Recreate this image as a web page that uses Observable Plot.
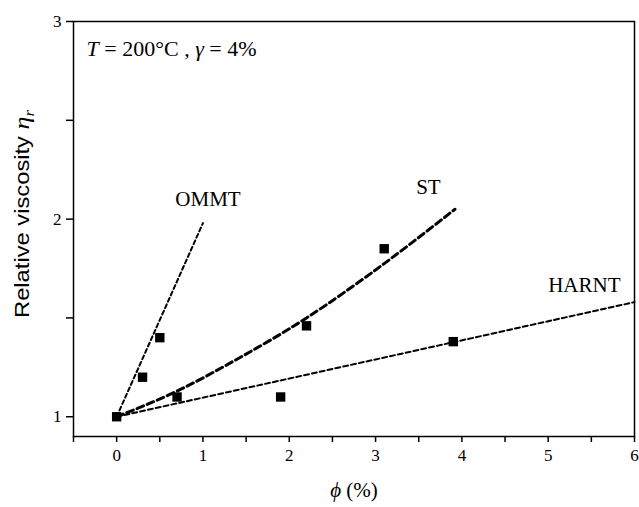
<!DOCTYPE html>
<html><head><meta charset="utf-8">
<script src="https://cdn.jsdelivr.net/npm/d3@7"></script>
<script src="https://cdn.jsdelivr.net/npm/@observablehq/plot@0.6"></script>
<style>body{margin:0;background:#fff} svg text{font-family:'Liberation Serif',serif}</style>
</head><body>
<script>
// ---- data ----
const psPhi = [0];             const psEta = [1.0];
const ommtPhi = [0.3, 0.5];    const ommtEta = [1.2, 1.4];
const stPhi = [0.7, 2.2, 3.1]; const stEta = [1.1, 1.46, 1.85];
const harntPhi = [1.9, 3.9];   const harntEta = [1.1, 1.38];

const ommtFitPhi = [0, 1.0];   const ommtFitEta = [1.0, 1.98];
const stFitPhi = [0, 0.7, 1.43, 2.2, 3.1, 3.92];
const stFitEta = [1.0, 1.13, 1.30, 1.50, 1.775, 2.05];
const harntFitPhi = [0, 6];    const harntFitEta = [1.0, 1.58];

const seriesNames = ["OMMT", "ST", "HARNT"];
const labelPhi = [0.68, 3.47, 5.0];
const labelEta = [2.10, 2.16, 1.665];

const xTicks = [-0.5, 0, 0.5, 1, 1.5, 2, 2.5, 3, 3.5, 4, 4.5, 5, 5.5, 6];
const xTickLabels = ["", "0", "", "1", "", "2", "", "3", "", "4", "", "5", "", "6"];
const yTicks = [1, 1.5, 2, 2.5, 3];
const yTickLabels = ["1", "", "2", "", "3"];
const annotation = "T = 200°C , γ = 4%";
const xTitle = "ϕ (%)";
const yTitle = "Relative viscosity ηr";

// ---- tables ----
const zip = (a, b) => a.map((p, i) => ({phi: p, eta: b[i]}));
const points = [...zip(psPhi, psEta), ...zip(ommtPhi, ommtEta), ...zip(stPhi, stEta), ...zip(harntPhi, harntEta)];
const labels = seriesNames.map((n, i) => ({name: n, phi: labelPhi[i], eta: labelEta[i]}));

const serif = "'Liberation Serif', 'Times New Roman', serif";
const sans = "'Liberation Sans', Arial, sans-serif";

const svg = Plot.plot({
  width: 639, height: 507,
  marginLeft: 73, marginRight: 5, marginTop: 21, marginBottom: 71,
  style: {fontFamily: serif, fontSize: "17px", color: "black", background: "white"},
  x: {domain: [-0.5, 6]},
  y: {domain: [0.9, 3]},
  marks: [
    Plot.axisX({ticks: xTicks, tickSize: 6, tickPadding: 6, strokeWidth: 1.5, fontSize: 17, fontFamily: serif,
      tickFormat: d => xTickLabels[xTicks.indexOf(d)], label: null}),
    Plot.axisY({ticks: yTicks, tickSize: 7, tickPadding: 5, strokeWidth: 1.5, fontSize: 17, fontFamily: serif,
      tickFormat: d => yTickLabels[yTicks.indexOf(d)], label: null}),
    Plot.frame({stroke: "black", strokeWidth: 1.5}),
    Plot.line(zip(ommtFitPhi, ommtFitEta), {x: "phi", y: "eta", stroke: "black", strokeWidth: 2, strokeDasharray: "4,3"}),
    Plot.line(zip(stFitPhi, stFitEta), {x: "phi", y: "eta", stroke: "black", strokeWidth: 3, strokeDasharray: "7,4", curve: "natural"}),
    Plot.line(zip(harntFitPhi, harntFitEta), {x: "phi", y: "eta", stroke: "black", strokeWidth: 2, strokeDasharray: "5,3"}),
    Plot.dot(points, {x: "phi", y: "eta", symbol: "square", r: 5.3, fill: "black", stroke: "none"}),
    Plot.text(labels, {x: "phi", y: "eta", text: "name", textAnchor: "start", fontSize: 21, fontFamily: serif, fill: "black"}),
    Plot.text([annotation], {text: d => d, frameAnchor: "top-left", dx: 13, dy: 19, textAnchor: "start", fontSize: 22, fontFamily: serif, fill: "black"}),
    Plot.text([xTitle], {text: d => d, frameAnchor: "bottom", dy: 60, fontSize: 21, fontFamily: serif, fill: "black"}),
    Plot.text([yTitle], {text: d => d, frameAnchor: "left", dx: -51, dy: 89, rotate: -90, textAnchor: "start", fontSize: 20, fontFamily: sans, fill: "black"})
  ]
});
document.body.append(svg);

// rich text (italic symbols, subscript)
function rich(content, parts, extra) {
  d3.select(svg).selectAll("text").filter(function() { return this.textContent === content; })
    .each(function() {
      const t = d3.select(this);
      t.text("");
      for (const p of parts) {
        const s = t.append("tspan").text(p.t);
        if (p.italic) s.attr("font-style", "italic");
        if (p.family) s.style("font-family", p.family);
        if (p.size) s.attr("font-size", p.size);
        if (p.dy) s.attr("dy", p.dy);
      }
      if (extra) extra(t);
    });
}
rich(annotation, [{t: "T", italic: true}, {t: " = 200°C , "}, {t: "γ", italic: true}, {t: " = 4%"}]);
rich(xTitle, [{t: "ϕ", italic: true}, {t: " (%)"}]);
rich(yTitle, [
  {t: "Relative viscosity ", family: sans},
  {t: "η", italic: true, family: serif, size: 22},
  {t: "r", italic: true, family: serif, size: 14, dy: "0.35em"}
], t => t.style("font-family", sans).attr("textLength", 208).attr("lengthAdjust", "spacingAndGlyphs"));
</script>
</body></html>
